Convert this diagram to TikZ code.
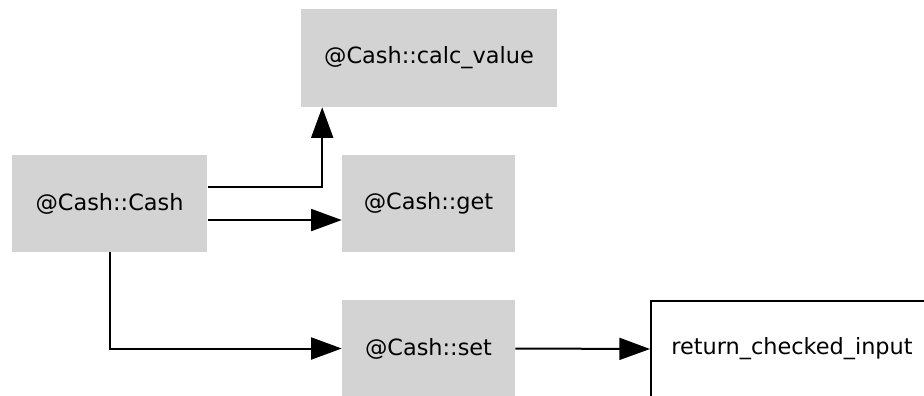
\documentclass[tikz,border=0pt]{standalone}
\usepackage{fontspec}
\setmainfont{DejaVu Sans}
\usetikzlibrary{arrows.meta}
\begin{document}
\begin{tikzpicture}[x=0.75pt,y=-0.75pt,
  box/.style={rectangle,fill={rgb,255:red,211;green,211;blue,211},inner sep=0pt,minimum height=72.75pt,text=black,font=\fontsize{16.8}{19}\selectfont},
  wbox/.style={rectangle,draw=black,line width=1.5pt,fill=white,inner sep=0pt,text=black,font=\fontsize{16.8}{19}\selectfont},
  arr/.style={line width=1.5pt,-{Triangle[length=23pt,width=16.5pt]}}]
\useasboundingbox (0,0) rectangle (924,396);
\clip (0,0) rectangle (924,396);
\fill[white] (0,0) rectangle (924,396);
\node[box,minimum width=192pt,minimum height=73.5pt] (calc) at (429,58) {@Cash::calc\_value};
\node[box,minimum width=146.6pt] (cash) at (109.5,203.5) {@Cash::Cash};
\node[box,minimum width=129.75pt] (get) at (428.5,203.5) {@Cash::get};
\node[box,minimum width=129.75pt] (set) at (428.5,348.5) {@Cash::set};
\node[wbox,minimum width=211.5pt,minimum height=72pt] (ret) at (792,349) {return\_checked\_input};
\draw[arr] ([yshift=12.4pt]cash.east) -| ([xshift=16.1pt]calc.south west);
\draw[arr] ([yshift=-12.4pt]cash.east) -- ([yshift=-12.4pt]get.west);
\draw[arr] (cash.south) |- (set.west);
\draw[arr] (set.east) -- (ret.west);
\end{tikzpicture}
\end{document}
